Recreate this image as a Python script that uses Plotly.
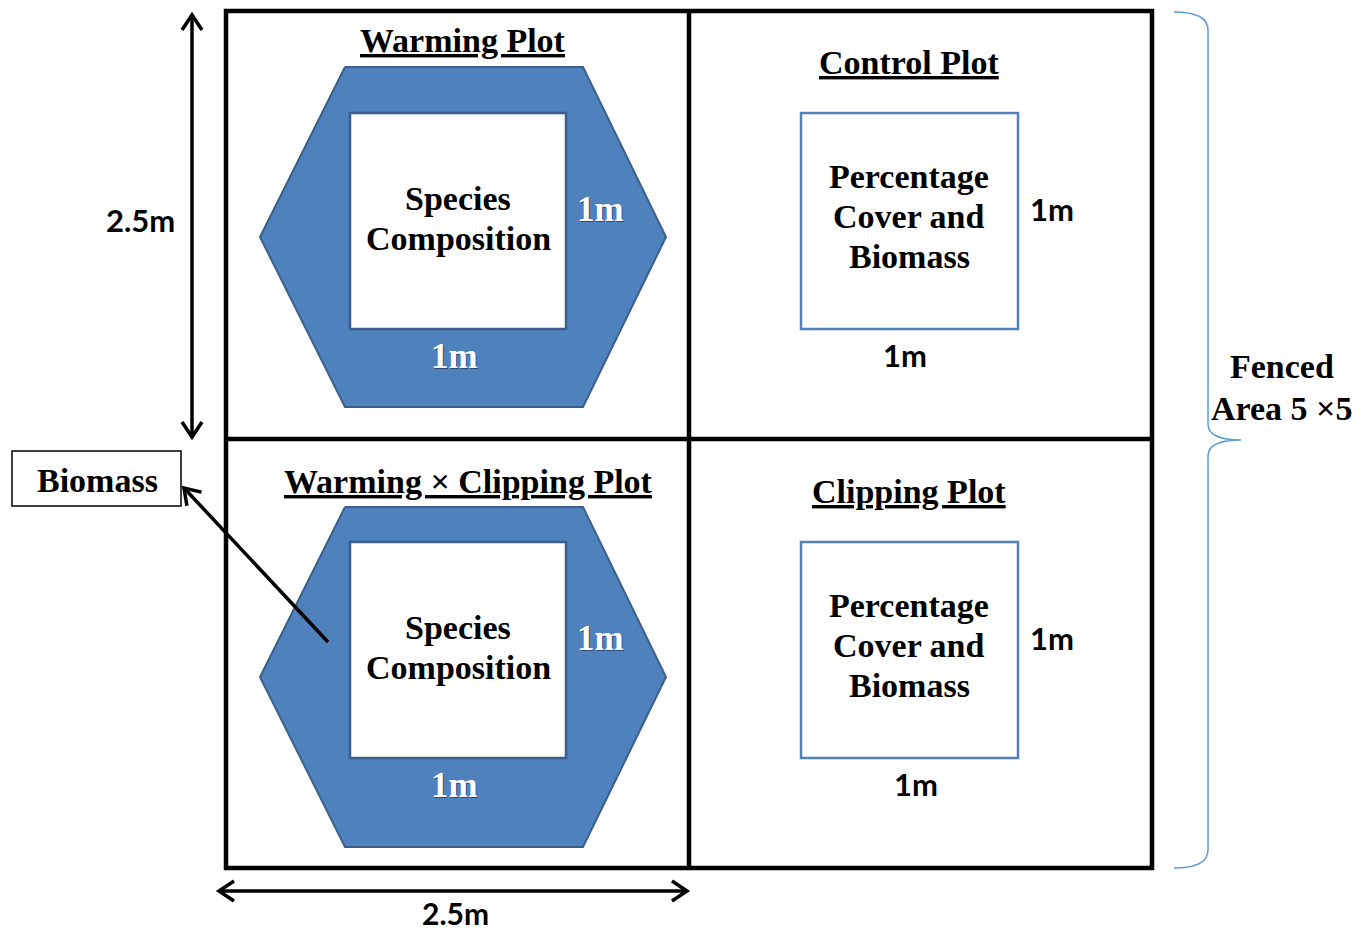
import math
import plotly.graph_objects as go

# ---- text content ----
plot_titles = ["Warming Plot", "Control Plot", "Warming × Clipping Plot", "Clipping Plot"]
inner_labels = [["Species", "Composition"], ["Percentage", "Cover and", "Biomass"],
                ["Species", "Composition"], ["Percentage", "Cover and", "Biomass"]]
side_label = "1m"
dim_label = "2.5m"
fence_label = ["Fenced", "Area 5 ×5"]
biomass_label = "Biomass"

W, H = 1369, 932
OFF = 8  # page body margin
BLUE = "#4F81BD"
DARK = "#3A5F8C"
SERIF = "Liberation Serif"
SANS = "Lato"

fig = go.Figure()

def hexagon(cy):
    xs = [345, 583, 666, 583, 345, 260, 345]
    ys = [cy - 170, cy - 170, cy, cy + 170, cy + 170, cy, cy - 170]
    return xs, ys

for cy in (237, 677):
    xs, ys = hexagon(cy)
    fig.add_trace(go.Scatter(x=xs, y=ys, mode="lines", fill="toself",
                             fillcolor=BLUE, line=dict(color=DARK, width=2),
                             hoverinfo="skip", showlegend=False))

shapes = []
for (x0, y0) in [(350, 113), (350, 542)]:
    shapes.append(dict(type="rect", x0=x0, x1=x0 + 216, y0=y0, y1=y0 + 216,
                       fillcolor="white", line=dict(color=DARK, width=2.5)))
for (x0, y0) in [(801, 113), (801, 542)]:
    shapes.append(dict(type="rect", x0=x0, x1=x0 + 217, y0=y0, y1=y0 + 216,
                       fillcolor="white", line=dict(color=BLUE, width=2.5)))
shapes.append(dict(type="rect", x0=226, x1=1152, y0=11, y1=868,
                   line=dict(color="black", width=4.5)))
shapes.append(dict(type="line", x0=689, x1=689, y0=11, y1=868,
                   line=dict(color="black", width=4.5)))
shapes.append(dict(type="line", x0=226, x1=1152, y0=439, y1=439,
                   line=dict(color="black", width=4.5)))
shapes.append(dict(type="rect", x0=12, x1=181, y0=451, y1=506,
                   fillcolor="white", line=dict(color="black", width=1.5)))
shapes.append(dict(type="path",
                   path="M1174,12 Q1208,12 1208,30 L1208,424 Q1208,440 1241,440 "
                        "Q1208,440 1208,456 L1208,850 Q1208,868 1174,868",
                   line=dict(color="#5B9BD5", width=1.5)))

def chevron(tx, ty, fx, fy, L=15, Wd=10):
    dx, dy = tx - fx, ty - fy
    n = math.hypot(dx, dy)
    ux, uy = dx / n, dy / n
    px, py = -uy, ux
    bx, by = tx - ux * L, ty - uy * L
    p = (f"M{bx + px * Wd:.1f},{by + py * Wd:.1f} L{tx:.1f},{ty:.1f} "
         f"L{bx - px * Wd:.1f},{by - py * Wd:.1f}")
    shapes.append(dict(type="path", path=p, line=dict(color="black", width=3.5)))

def arrow(x0, y0, x1, y1, both=False):
    shapes.append(dict(type="line", x0=x0, y0=y0, x1=x1, y1=y1,
                       line=dict(color="black", width=3.5)))
    chevron(x1, y1, x0, y0)
    if both:
        chevron(x0, y0, x1, y1)

arrow(192, 15, 192, 437, both=True)
arrow(219, 891, 687, 891, both=True)
arrow(328, 642, 184, 488)

ann = []
def txt(x, y, t, size, color="black", font=SERIF):
    ann.append(dict(x=x, y=y, text=t, showarrow=False, xanchor="center", yanchor="middle",
                    font=dict(family=font, size=size, color=color)))

title_pos = [(463, 40), (909, 62), (468, 481), (909, 491)]
for (x, y), t in zip(title_pos, plot_titles):
    txt(x, y, "<b><u>" + t + "</u></b>", 34)

inner_pos = [(458, 218), (909, 216), (458, 647), (909, 645)]
for (x, y), lines in zip(inner_pos, inner_labels):
    n = len(lines)
    for i, t in enumerate(lines):
        txt(x, y + (i - (n - 1) / 2) * 40, "<b>" + t + "</b>", 34)

for (x, y) in [(600, 209), (454, 356), (600, 638), (454, 785)]:
    txt(x + 1.5, y + 1.5, "<b>" + side_label + "</b>", 35, color="#2F4A70")
    txt(x, y, "<b>" + side_label + "</b>", 35, color="white")
for (x, y) in [(1052, 209), (905, 355), (1052, 638), (916, 784)]:
    txt(x, y, "<b>" + side_label + "</b>", 31, font=SANS)

txt(140, 220, "<b>" + dim_label + "</b>", 31, font=SANS)
txt(455, 913, "<b>" + dim_label + "</b>", 30, font=SANS)
for i, t in enumerate(fence_label):
    txt(1282, 366 + i * 42, "<b>" + t + "</b>", 34)
txt(97, 480, "<b>" + biomass_label + "</b>", 34)

fig.update_layout(width=W, height=H, margin=dict(l=0, r=0, t=0, b=0),
                  paper_bgcolor="white", plot_bgcolor="white",
                  xaxis=dict(range=[OFF, W + OFF], visible=False, fixedrange=True),
                  yaxis=dict(range=[H + OFF, OFF], visible=False, fixedrange=True),
                  shapes=shapes, annotations=ann, showlegend=False)
fig.write_html("out.html")
